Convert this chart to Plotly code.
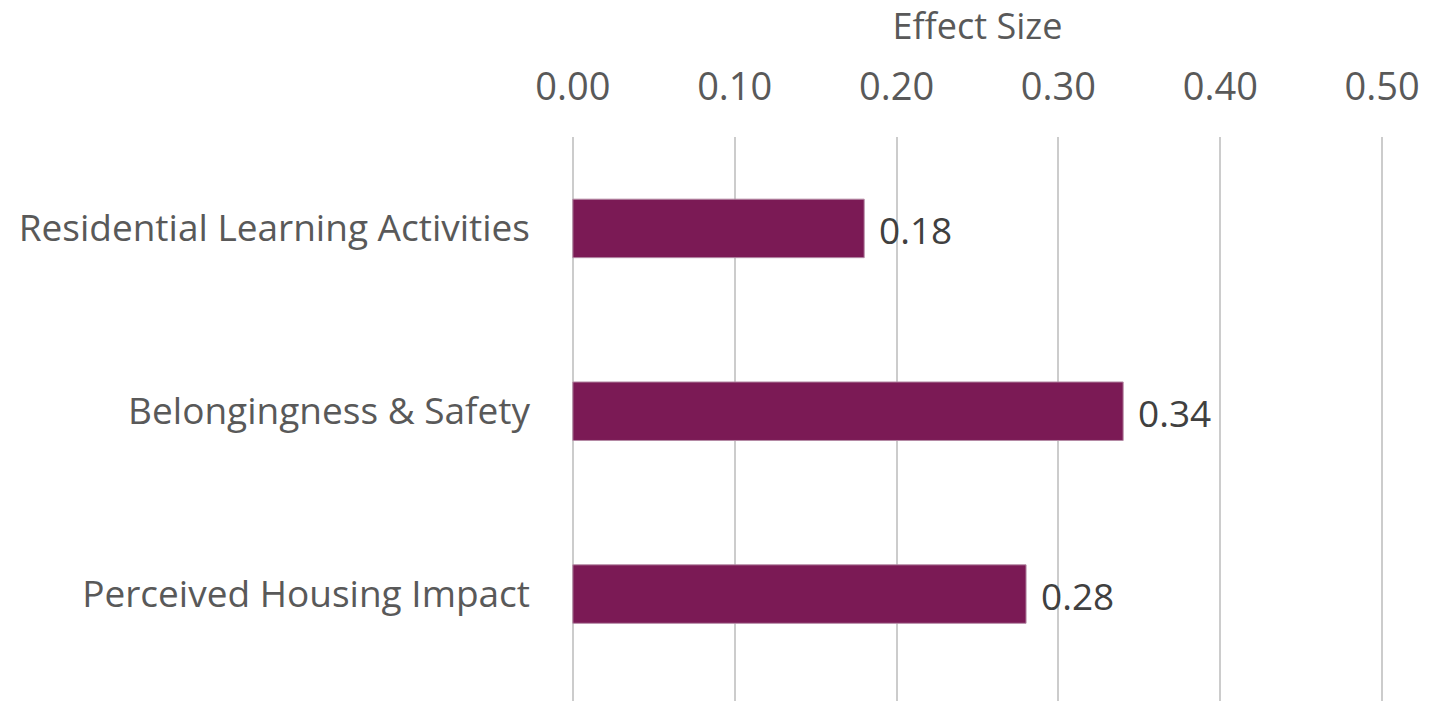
import plotly.graph_objects as go

# Effect sizes by outcome
categories = ["Residential Learning Activities", "Belongingness & Safety", "Perceived Housing Impact"]
effect_sizes = [0.18, 0.34, 0.28]
value_labels = ["0.18", "0.34", "0.28"]
tick_values = [0.0, 0.1, 0.2, 0.3, 0.4, 0.5]
tick_labels = ["0.00", "0.10", "0.20", "0.30", "0.40", "0.50"]

FONT = "Open Sans"
GREY = "#595959"
BAR = "#7B1A55"

fig = go.Figure()
fig.add_trace(go.Bar(
    x=effect_sizes,
    y=categories,
    orientation="h",
    width=0.32,
    marker=dict(color=BAR, line=dict(color="#b58aa5", width=1)),
    hoverinfo="x+y",
))

for cat, val, lab in zip(categories, effect_sizes, value_labels):
    fig.add_annotation(
        x=val, y=cat, text=lab, showarrow=False,
        xanchor="left", yanchor="middle", xshift=13, yshift=-1,
        font=dict(family=FONT, size=37, color="#404040"),
    )

fig.update_layout(
    width=1445, height=701,
    margin=dict(l=568, r=58, t=137, b=0),
    paper_bgcolor="white", plot_bgcolor="white",
    showlegend=False,
    font=dict(family=FONT, color=GREY),
    xaxis=dict(
        side="top",
        range=[-0.003, 0.503],
        tickvals=tick_values,
        ticktext=tick_labels,
        tickfont=dict(family=FONT, size=38, color=GREY),
        showgrid=True, gridcolor="#cccccc", gridwidth=2,
        zeroline=False, showline=False,
        ticks="", ticklabelstandoff=28,
        title=dict(text="Effect Size", font=dict(family=FONT, size=36, color=GREY), standoff=8),
        fixedrange=True,
    ),
    yaxis=dict(
        type="category",
        categoryorder="array", categoryarray=categories,
        range=[2.585, -0.5],
        tickfont=dict(family=FONT, size=37, color=GREY),
        showgrid=False, zeroline=False, showline=False,
        ticks="", ticklabelstandoff=37,
        fixedrange=True,
    ),
)

fig.write_html("out.html")
